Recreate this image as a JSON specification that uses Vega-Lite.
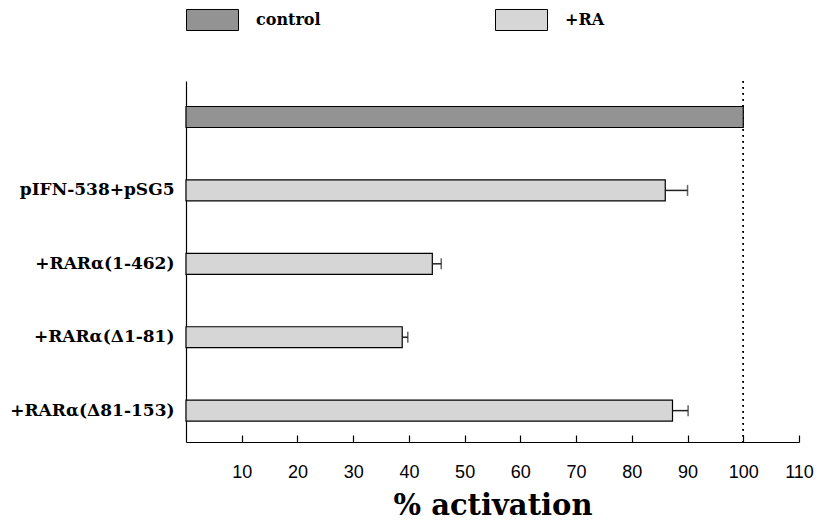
{
  "$schema": "https://vega.github.io/schema/vega-lite/v6.json",
  "width": 613,
  "height": 361,
  "autosize": "none",
  "padding": {"left": 186, "top": 81, "right": 18, "bottom": 79},
  "background": "white",
  "config": {"view": {"stroke": null}, "font": "DejaVu Serif"},
  "data": {
    "values": [
      {"construct": "control", "condition": "control", "activation": 100},
      {"construct": "pIFN-538+pSG5", "condition": "+RA", "activation": 86.0, "err": 90.0},
      {"construct": "+RARα(1-462)", "condition": "+RA", "activation": 44.2, "err": 45.8},
      {"construct": "+RARα(Δ1-81)", "condition": "+RA", "activation": 38.8, "err": 39.8},
      {"construct": "+RARα(Δ81-153)", "condition": "+RA", "activation": 87.3, "err": 90.1}
    ]
  },
  "layer": [
    {
      "mark": {"type": "rule", "strokeDash": [1.5, 4.5], "color": "black", "strokeWidth": 1.2},
      "encoding": {"x": {"datum": 100, "type": "quantitative"}}
    },
    {
      "mark": {"type": "bar", "stroke": "black", "strokeWidth": 1.2},
      "encoding": {
        "y": {
          "field": "construct", "type": "nominal", "sort": null,
          "scale": {"domain": ["control", "pIFN-538+pSG5", "+RARα(1-462)", "+RARα(Δ1-81)", "+RARα(Δ81-153)"], "paddingInner": 0.714, "paddingOuter": 0.316, "align": 0.55},
          "axis": {
            "title": null, "domainColor": "black", "domainWidth": 1.2, "ticks": false,
            "labelFont": "DejaVu Serif", "labelFontWeight": "bold", "labelFontSize": 17,
            "labelColor": "black", "labelPadding": 12, "labelLimit": 300,
            "labelExpr": "datum.value == 'control' ? '' : datum.value"
          }
        },
        "x": {
          "field": "activation", "type": "quantitative",
          "scale": {"domain": [0, 110], "nice": false, "zero": true},
          "axis": {
            "title": "% activation", "titleFont": "DejaVu Serif", "titleFontSize": 29,
            "titleFontWeight": "bold", "titleColor": "black", "titlePadding": 10,
            "values": [10, 20, 30, 40, 50, 60, 70, 80, 90, 100, 110],
            "tickSize": -7, "tickColor": "black", "tickWidth": 1.2,
            "domainColor": "black", "domainWidth": 1.2, "grid": false,
            "labelFont": "Liberation Sans", "labelFontSize": 18, "labelColor": "black",
            "labelPadding": 28, "labelFlush": false
          }
        },
        "fill": {
          "field": "condition", "type": "nominal",
          "scale": {"domain": ["control", "+RA"], "range": ["#939393", "#d6d6d6"]},
          "legend": {
            "orient": "none", "legendX": 0, "legendY": -88, "direction": "horizontal",
            "title": null, "padding": 0,
            "symbolType": "M-1,-0.404L1,-0.404L1,0.404L-1,0.404Z", "symbolSize": 2704,
            "symbolStrokeColor": "black", "symbolStrokeWidth": 1,
            "labelFont": "DejaVu Serif", "labelFontWeight": "bold", "labelFontSize": 16,
            "labelColor": "black", "labelOffset": 17, "columnPadding": 172
          }
        }
      }
    },
    {
      "transform": [{"filter": "isValid(datum.err)"}],
      "mark": {"type": "rule", "color": "#222222", "strokeWidth": 1.5},
      "encoding": {
        "y": {"field": "construct", "type": "nominal", "sort": null},
        "x": {"field": "activation", "type": "quantitative"},
        "x2": {"field": "err"}
      }
    },
    {
      "transform": [{"filter": "isValid(datum.err)"}],
      "mark": {"type": "tick", "color": "#222222", "thickness": 1.5, "size": 11},
      "encoding": {
        "y": {"field": "construct", "type": "nominal", "sort": null},
        "x": {"field": "err", "type": "quantitative"}
      }
    }
  ]
}
